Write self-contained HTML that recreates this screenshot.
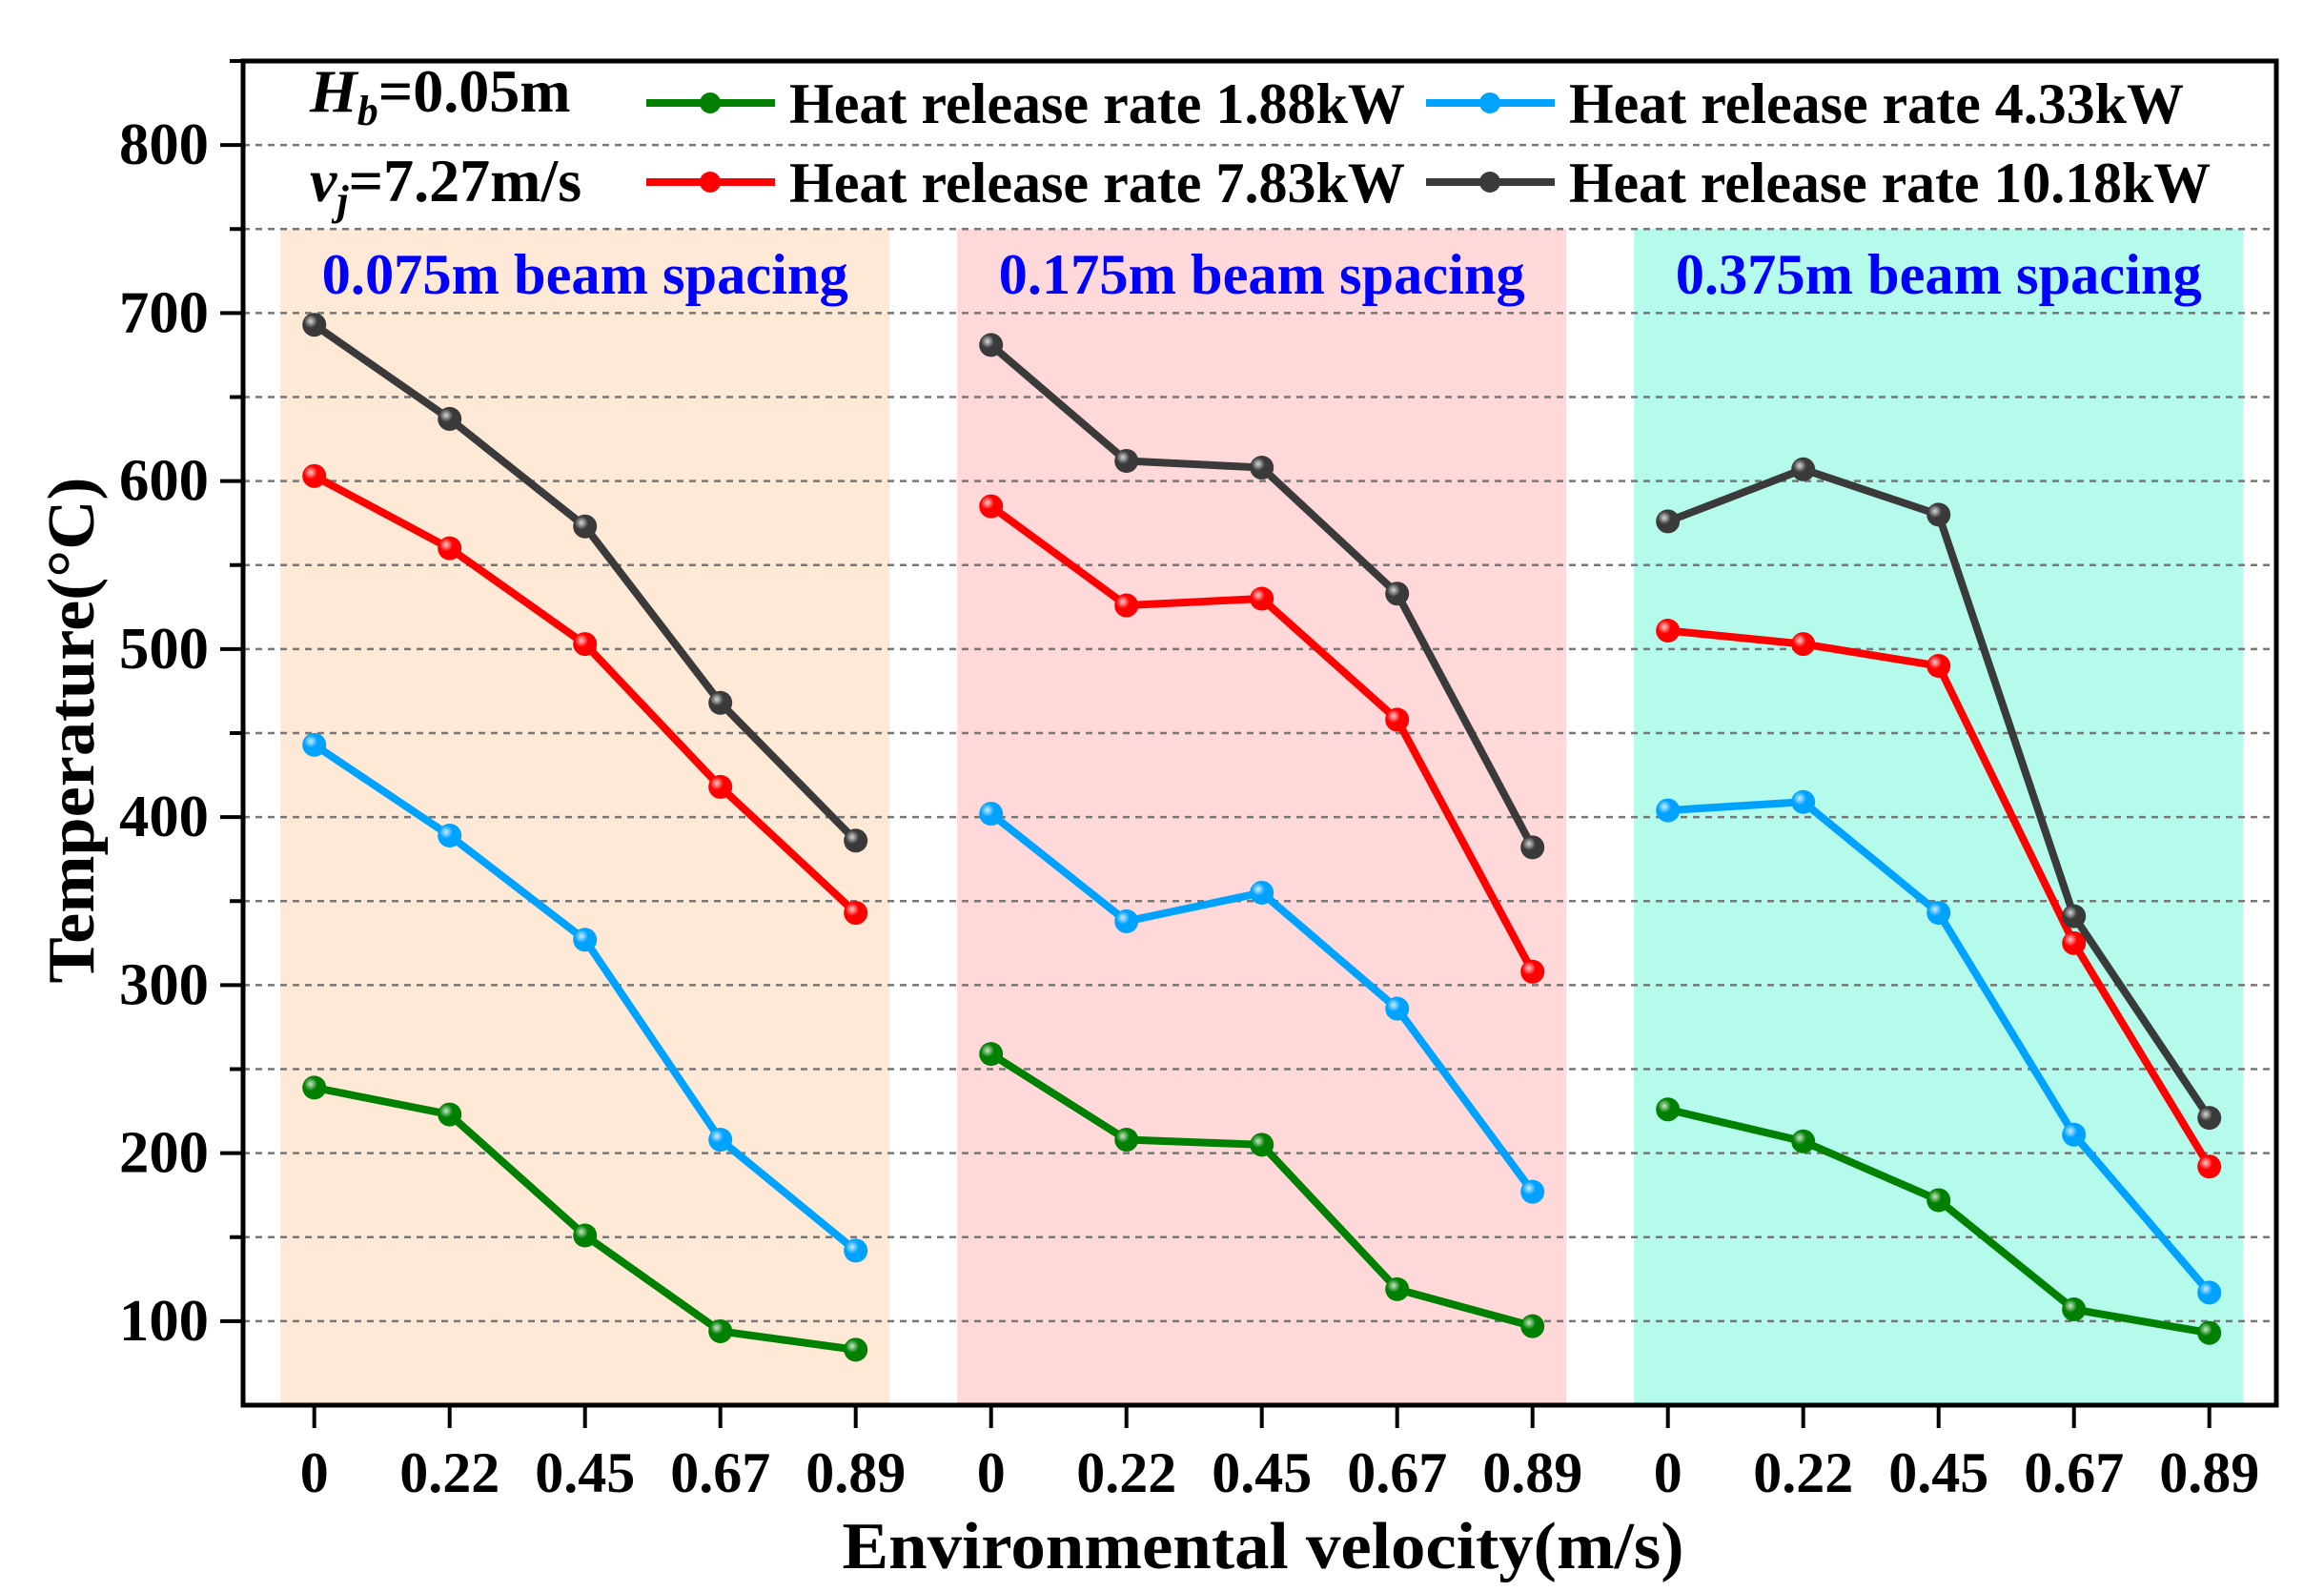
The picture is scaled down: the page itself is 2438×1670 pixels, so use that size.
<!DOCTYPE html>
<html><head><meta charset="utf-8"><style>html,body{margin:0;padding:0;background:#fff}svg{display:block}text{font-family:"Liberation Serif",serif;font-weight:bold}</style></head>
<body>
<svg id="chart" width="2438" height="1670" viewBox="0 0 2438 1670" xmlns="http://www.w3.org/2000/svg">
<defs>
<radialGradient id="hl" cx="0.35" cy="0.35" r="0.7"><stop offset="0" stop-color="#fff" stop-opacity="0.8"/><stop offset="0.4" stop-color="#fff" stop-opacity="0"/></radialGradient>
</defs>
<g id="bg"></g><g id="grid"></g><g id="series"></g><g id="axes"></g><g id="labels"></g>
</svg>
<script>
const categories = ["0","0.22","0.45","0.67","0.89"];
const groupLabels = ["0.075m beam spacing","0.175m beam spacing","0.375m beam spacing"];
const seriesNames = ["Heat release rate 1.88kW","Heat release rate 4.33kW","Heat release rate 7.83kW","Heat release rate 10.18kW"];
const seriesColors = ["#008000","#00a2ff","#ff0000","#3a3a3a"];
const yTicks = [100,200,300,400,500,600,700,800];
const hrr188 = [[239,223,151,94,83],[259,208,205,119,97],[226,207,172,107,93]];
const hrr433 = [[443,389,327,208,142],[402,338,355,286,177],[404,409,343,211,117]];
const hrr783 = [[603,560,503,418,343],[585,526,530,458,308],[511,503,490,325,192]];
const hrr1018 = [[693,637,573,468,386],[681,612,608,533,382],[576,607,580,341,221]];
const allSeries = [hrr188,hrr433,hrr783,hrr1018];

const NS="http://www.w3.org/2000/svg";
const L=255,R=2388,T=64,B=1474,YMIN=50,YMAX=850;
const y=v=>B-(v-YMIN)/(YMAX-YMIN)*(B-T);
const x=(g,i)=>329.7+(g*5+i)*142;
function mk(tag,attrs,parent,txt){const e=document.createElementNS(NS,tag);for(const k in attrs)e.setAttribute(k,attrs[k]);if(txt!==undefined)e.textContent=txt;document.getElementById(parent).appendChild(e);return e;}

const shades=["#fde9d6","#ffd9d9","#b4fbeb"];
groupLabels.forEach((lab,g)=>{
  const r=mk('rect',{x:x(g,0)-35.5,y:y(750),width:142*4+71,height:B-y(750),fill:shades[g]},'bg');
  
  
});
for(let v=100;v<=800;v+=50){
  const l=mk('line',{x1:L,x2:R,y1:y(v),y2:y(v),stroke:'#777','stroke-width':2.5,'stroke-dasharray':'7,6'},'grid');
  
  
}
groupLabels.forEach((lab,g)=>{
  const t=mk('text',{x:(x(g,0)+x(g,4))/2,y:308,'text-anchor':'middle','font-size':60,fill:'#0000ff',textLength:552,lengthAdjust:'spacingAndGlyphs'},'labels',lab);
  
  
});
allSeries.forEach((s,k)=>{
  s.forEach((vals,g)=>{
    const pts=vals.map((v,i)=>x(g,i)+','+y(v)).join(' ');
    const pl=mk('polyline',{points:pts,fill:'none',stroke:seriesColors[k],'stroke-width':8,'stroke-linejoin':'round'},'series');
    
    
    vals.forEach((v,i)=>{
      const c=mk('circle',{cx:x(g,i),cy:y(v),r:12.5,fill:seriesColors[k]},'series');
      
      
      mk('circle',{cx:x(g,i),cy:y(v),r:12.5,fill:'url(#hl)'},'series');
    });
  });
});
const ax=mk('rect',{x:L,y:T,width:R-L,height:B-T,fill:'none',stroke:'#000','stroke-width':5},'axes');


for(let v=100;v<=850;v+=50){
  const major=v%100===0;
  mk('line',{x1:L-(major?24:14),x2:L,y1:y(v),y2:y(v),stroke:'#000','stroke-width':4},'axes');
}
yTicks.forEach(v=>{
  const t=mk('text',{x:219,y:y(v)+20,'text-anchor':'end','font-size':62,fill:'#000',textLength:94,lengthAdjust:'spacingAndGlyphs'},'labels',String(v));
  
  
});
for(let g=0;g<3;g++)categories.forEach((c,i)=>{
  mk('line',{x1:x(g,i),x2:x(g,i),y1:B,y2:B+24,stroke:'#000','stroke-width':4},'axes');
  const t=mk('text',{x:x(g,i),y:1565,'text-anchor':'middle','font-size':60,fill:'#000'},'labels',c);
  
  
});
const xt=mk('text',{x:1325,y:1645,'text-anchor':'middle','font-size':70,fill:'#000',textLength:883,lengthAdjust:'spacingAndGlyphs'},'labels','Environmental velocity(m/s)');


const yt=mk('text',{x:0,y:0,'text-anchor':'middle','font-size':70,fill:'#000',textLength:531,lengthAdjust:'spacingAndGlyphs',transform:'translate(98,766) rotate(-90)'},'labels','Temperature(°C)');


const hb=mk('text',{x:325,y:117,'font-size':64,fill:'#000'},'labels');


hb.innerHTML='<tspan font-style="italic">H</tspan><tspan font-style="italic" font-size="44" dy="14">b</tspan><tspan dy="-14">=0.05m</tspan>';
const vj=mk('text',{x:325,y:211,'font-size':64,fill:'#000'},'labels');


vj.innerHTML='<tspan font-style="italic">v</tspan><tspan font-style="italic" font-size="44" dy="14">j</tspan><tspan dy="-14">=7.27m/s</tspan>';
const lpos=[[678,108],[1496,108],[678,191],[1496,191]];
const lw=[646,645,646,673];
seriesNames.forEach((n,k)=>{
  const [lx,ly]=lpos[k];
  const ln=mk('line',{x1:lx,x2:lx+135,y1:ly,y2:ly,stroke:seriesColors[k],'stroke-width':8},'labels');
  
  
  mk('circle',{cx:lx+67,cy:ly,r:11,fill:seriesColors[k]},'labels');
  const t=mk('text',{x:lx+150,y:ly+21,'font-size':60,fill:'#000',textLength:lw[k],lengthAdjust:'spacingAndGlyphs'},'labels',n);
  
  
});
</script>
</body></html>
